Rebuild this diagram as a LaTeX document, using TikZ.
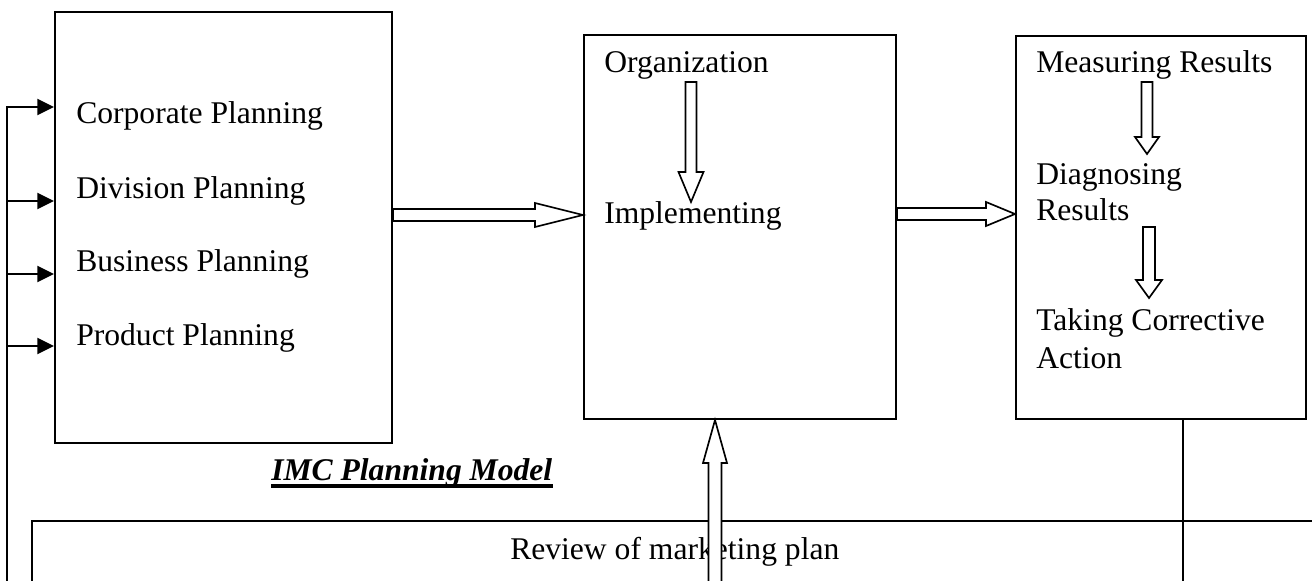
\documentclass[tikz,border=0pt]{standalone}
\usepackage{fontspec}
\setmainfont{Liberation Serif}
\usetikzlibrary{calc,arrows.meta}
\newdimen\upx \upx=0.75pt
% #1 start, #2 tip, #3 shaft half width, #4 head half width, #5 head length
\newcommand\holarrow[5]{%
  \coordinate (hbase) at ($(#2)!#5!(#1)$);
  \draw[harrow] ($(#1)!#3!90:(#2)$) -- ($(hbase)!#3!-90:(#1)$) -- ($(hbase)!#4!-90:(#1)$)
    -- (#2) -- ($(hbase)!#4!90:(#1)$) -- ($(hbase)!#3!90:(#1)$) -- ($(#1)!#3!-90:(#2)$) -- cycle;}
\begin{document}
\begin{tikzpicture}[x=0.75pt,y=-0.75pt,
  box/.style={draw, line width=1.5pt, rectangle, inner sep=0pt, anchor=north west},
  lbl/.style={inner sep=0pt, anchor=base west, font=\fontsize{23.7}{28}\selectfont},
  harrow/.style={draw, fill=white, line width=1.25pt, line join=miter},
  fbline/.style={line width=1.5pt},
  fbarrow/.style={line width=1.5pt, -{Triangle[length=12.5pt,width=12pt]}}]
\useasboundingbox (0,0) rectangle (1312,581);
\begin{scope}
\clip (0,0) rectangle (1312,581);
% boxes
\node[box, minimum width=337\upx, minimum height=431\upx] (plan) at (54,11) {};
\node[box, minimum width=312\upx, minimum height=384\upx] (impl) at (583,34) {};
\node[box, minimum width=290\upx, minimum height=383\upx] (ctrl) at (1015,35) {};
\node[box, minimum width=1400\upx, minimum height=200\upx] (review) at (31,520) {};
% texts
\node[lbl] (corp) at (76,123) {Corporate Planning};
\node[lbl] (divi) at (76,198) {Division Planning};
\node[lbl] (busi) at (76,271) {Business Planning};
\node[lbl] (prod) at (76,345) {Product Planning};
\node[lbl] (org) at (604,73) {Organization};
\node[lbl] (imp) at (604,223) {Implementing};
\node[lbl] (meas) at (1036,73) {Measuring Results};
\node[lbl] (diag1) at (1036,184) {Diagnosing};
\node[lbl] (diag2) at (1036,220) {Results};
\node[lbl] (take1) at (1036,330) {Taking Corrective};
\node[lbl] (take2) at (1036,368) {Action};
\node[lbl, font=\fontsize{23.7}{28}\selectfont\bfseries\itshape] (imc) at (271,480) {IMC Planning Model};
\draw[line width=2.6pt] ($(imc.base west)+(0,6)$) -- ($(imc.base east)+(0,6)$);
\node[lbl] (revtxt) at (510,559) {Review of marketing plan};
% feedback loop on the left
\coordinate (fbtop) at (7,107);
\coordinate (fbbot) at (7,600);
\coordinate (fb2) at (7,201);
\coordinate (fb3) at (7,274);
\coordinate (fb4) at (7,346);
\draw[fbarrow] (fbbot) -- (fbtop) -- (plan.west |- fbtop);
\draw[fbarrow] (fb2) -- (plan.west |- fb2);
\draw[fbarrow] (fb3) -- (plan.west |- fb3);
\draw[fbarrow] (fb4) -- (plan.west |- fb4);
% line down from the control box
\coordinate (ctrlout) at (1183,600);
\draw[fbline] (ctrl.south -| ctrlout) -- (ctrlout);
% hollow arrows
\coordinate (a1s) at (plan.east |- 0,215);
\coordinate (a1e) at (impl.west |- 0,215);
\holarrow{a1s}{a1e}{4.5pt}{9pt}{36pt}
\coordinate (a2s) at (impl.east |- 0,214);
\coordinate (a2e) at (ctrl.west |- 0,214);
\holarrow{a2s}{a2e}{4.5pt}{9pt}{21.75pt}
\coordinate (o1s) at (691,82);
\coordinate (o1e) at (691,202);
\holarrow{o1s}{o1e}{4.125pt}{9.375pt}{22.5pt}
\coordinate (m1s) at (1147,82);
\coordinate (m1e) at (1147,154);
\holarrow{m1s}{m1e}{4.125pt}{9pt}{12.75pt}
\coordinate (m2s) at (1149,227);
\coordinate (m2e) at (1149,298);
\holarrow{m2s}{m2e}{4.5pt}{9.75pt}{13.5pt}
\coordinate (ups) at (715,600);
\coordinate (upe) at (impl.south -| ups);
\holarrow{ups}{upe}{4.875pt}{9pt}{32.25pt}
\end{scope}
\end{tikzpicture}
\end{document}
